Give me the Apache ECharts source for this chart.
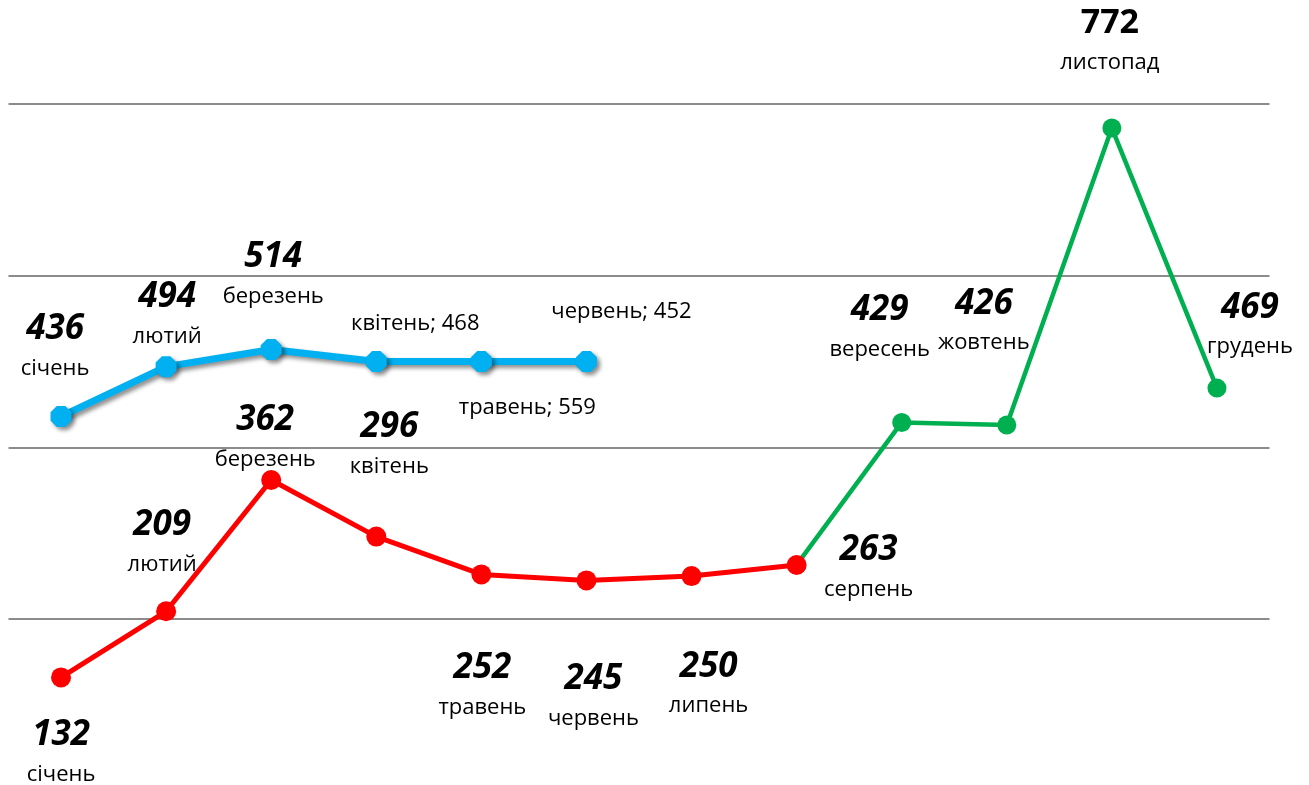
<!DOCTYPE html>
<html>
<head>
<meta charset="utf-8">
<script src="https://cdn.jsdelivr.net/npm/echarts@6/dist/echarts.min.js"></script>
<style>
html,body{margin:0;padding:0;background:#fff;}
#chart{width:1309px;height:785px;}
</style>
</head>
<body>
<div id="chart"></div>
<script>
// ---- data ----
const months = ['січень','лютий','березень','квітень','травень','червень','липень','серпень','вересень','жовтень','листопад','грудень'];
const yTicks = [0, 200, 400, 600, 800];
// previous-year series (blue): plotted heights as drawn, and the values written in its labels
const bluePlotted = [436, 494, 514, 500, 500, 500, null, null, null, null, null, null];
const blueLabels  = [436, 494, 514, 468, 559, 452, null, null, null, null, null, null];
// current year, Jan–Aug (red)
const redValues   = [132, 209, 362, 296, 252, 245, 250, 263, null, null, null, null];
// current year, Aug–Dec (green)
const greenValues = [null, null, null, null, null, null, null, 263, 429, 426, 772, 469];

// ---- label placement (styling only) ----
const redOffsets   = [[0,77],[-4,-67],[-6,-40],[13,-90],[1,113],[7,118],[17,110],[72,5]];
const greenOffsets = {8:[-22,-93], 9:[-23,-102], 10:[-2,-85], 11:[33,-61]};
const blueOffsets  = [[-6,-68],[1,-50],[2,-73],[39,-38],[46,46],[35,-50]];
const blueTwoLine  = [true, true, true, false, false, false];

const FONT = '"Open Sans", "Noto Sans", sans-serif';
const rich = {
  n:  {fontFamily: FONT, fontSize: 35, fontWeight: 'bold', fontStyle: 'italic', color: '#000', lineHeight: 40, align: 'center'},
  nu: {fontFamily: FONT, fontSize: 34, fontWeight: 'bold', color: '#000', lineHeight: 40, align: 'center'},
  m:  {fontFamily: FONT, fontSize: 22, color: '#000', lineHeight: 39, align: 'center'},
  s:  {fontFamily: FONT, fontSize: 22, color: '#000', lineHeight: 26}
};

function twoLineLabel(num, month, offset, upright) {
  return {
    show: true, position: 'inside', align: 'center', verticalAlign: 'middle',
    offset: offset, rich: rich,
    formatter: '{' + (upright ? 'nu' : 'n') + '|' + num + '}\n{m|' + month + '}'
  };
}

const redData = redValues.map((v, i) => v == null ? null : {
  value: v, label: twoLineLabel(v, months[i], redOffsets[i], false)
});
const greenData = greenValues.map((v, i) => {
  if (v == null) return null;
  if (!greenOffsets[i]) return {value: v, label: {show: false}, symbolSize: 0};
  return {value: v, label: twoLineLabel(v, months[i], greenOffsets[i], i === 10)};
});
const blueData = bluePlotted.map((v, i) => {
  if (v == null) return null;
  if (blueTwoLine[i]) return {value: v, label: twoLineLabel(blueLabels[i], months[i], blueOffsets[i], false)};
  return {value: v, label: {
    show: true, position: 'inside', align: 'center', verticalAlign: 'middle',
    offset: blueOffsets[i], rich: rich,
    formatter: '{s|' + months[i] + '; ' + blueLabels[i] + '}'
  }};
});

const chart = echarts.init(document.getElementById('chart'));
chart.setOption({
  animation: false,
  backgroundColor: '#fff',
  grid: {left: 8.5, width: 1261, top: 104, height: 686.7, containLabel: false, outerBoundsMode: 'none'},
  xAxis: {
    type: 'category', data: months, boundaryGap: true,
    axisLine: {show: false}, axisTick: {show: false}, axisLabel: {show: false}
  },
  yAxis: {
    type: 'value', min: yTicks[0], max: yTicks[yTicks.length - 1], interval: yTicks[1] - yTicks[0],
    axisLine: {show: false}, axisTick: {show: false}, axisLabel: {show: false},
    splitLine: {lineStyle: {color: '#8c8c8c', width: 2}}
  },
  series: [
    {
      name: 'blue', type: 'line', data: blueData, z: 2,
      symbol: 'path://M3,0 L7,0 L10,3 L10,7 L7,10 L3,10 L0,7 L0,3 Z', symbolSize: 21,
      lineStyle: {color: '#00B0F0', width: 7, shadowColor: 'rgba(0,0,0,0.45)', shadowBlur: 4, shadowOffsetX: 3, shadowOffsetY: 3},
      itemStyle: {color: '#00B0F0', shadowColor: 'rgba(0,0,0,0.45)', shadowBlur: 4, shadowOffsetX: 3, shadowOffsetY: 3}
    },
    {
      name: 'green', type: 'line', data: greenData, z: 2,
      symbol: 'circle', symbolSize: 19, showAllSymbol: true,
      lineStyle: {color: '#00B050', width: 4.5},
      itemStyle: {color: '#00B050'}
    },
    {
      name: 'red', type: 'line', data: redData, z: 3,
      symbol: 'circle', symbolSize: 20, showAllSymbol: true,
      lineStyle: {color: '#FF0000', width: 5},
      itemStyle: {color: '#FF0000'}
    }
  ]
});
</script>
</body>
</html>
